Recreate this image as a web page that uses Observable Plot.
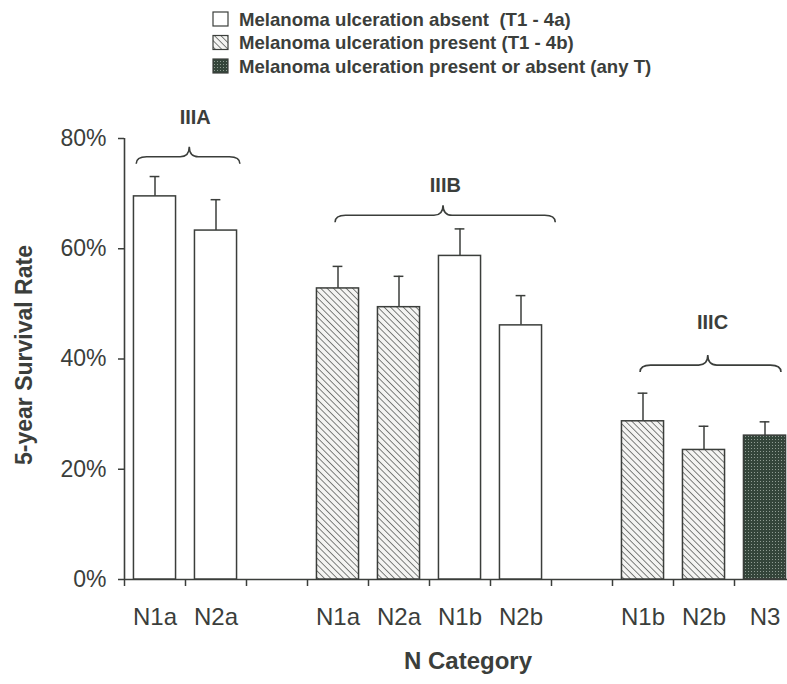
<!DOCTYPE html>
<html><head><meta charset="utf-8">
<script src="https://cdn.jsdelivr.net/npm/d3@7"></script>
<script src="https://cdn.jsdelivr.net/npm/@observablehq/plot@0.6"></script>
<style>body{margin:0;background:#fff;}</style>
</head><body><div id="chart"></div>
<script>
// ---- data ----
const groupNames = ["IIIA", "IIIB", "IIIC"];
const groups = ["IIIA", "IIIA", "IIIB", "IIIB", "IIIB", "IIIB", "IIIC", "IIIC", "IIIC"];
const categories = ["N1a", "N2a", "N1a", "N2a", "N1b", "N2b", "N1b", "N2b", "N3"];
const ulceration = ["absent", "absent", "present", "present", "absent", "absent", "present", "present", "any"];
const survival = [69.5, 63.3, 52.8, 49.4, 58.7, 46.1, 28.7, 23.5, 26.1];
const errorTop = [73.1, 68.9, 56.8, 55.0, 63.6, 51.5, 33.8, 27.8, 28.6];
const yTicks = [0, 20, 40, 60, 80];
const legendLabels = [
  "Melanoma ulceration absent  (T1 - 4a)",
  "Melanoma ulceration present (T1 - 4b)",
  "Melanoma ulceration present or absent (any T)"
];
// bracket annotations (in slot units / percent)
const bracketFrom = [0.2, 3.46, 8.46];
const bracketTo = [1.9, 7.07, 10.77];
const bracketMid = [1.07, 5.23, 9.57];
const bracketLevel = [76.6, 66.0, 38.8];
const labelAt = [1.16, 5.26, 9.64];
const labelLevel = [83.8, 71.5, 46.6];

const ink = "#3b3e3b";
const fills = {absent: "#ffffff", present: "url(#hatch)", any: "url(#dark)"};

const bars = categories.map((c, i) => ({
  category: c, group: groups[i], ulceration: ulceration[i],
  value: survival[i], upper: errorTop[i],
  slot: i + groupNames.indexOf(groups[i])
}));
const inset = 0.155;

function defsMark() {
  const svg = d3.create("svg:g");
  const defs = svg.append("defs");
  const h = defs.append("pattern").attr("id", "hatch").attr("patternUnits", "userSpaceOnUse")
    .attr("width", 4.5).attr("height", 4.5).attr("patternTransform", "rotate(-45)");
  h.append("rect").attr("width", 4.5).attr("height", 4.5).attr("fill", "#f4f4f2");
  h.append("line").attr("x1", 0).attr("y1", 0).attr("x2", 0).attr("y2", 4.5)
    .attr("stroke", "#4a4d4a").attr("stroke-width", 1.4);
  const d = defs.append("pattern").attr("id", "dark").attr("patternUnits", "userSpaceOnUse")
    .attr("width", 3).attr("height", 3);
  d.append("rect").attr("width", 3).attr("height", 3).attr("fill", "#34453a");
  d.append("rect").attr("x", 1).attr("y", 1).attr("width", 1).attr("height", 1).attr("fill", "#8f9c93");
  return svg.node();
}

function bracketMark(index, scales) {
  const g = d3.create("svg:g").attr("fill", "none").attr("stroke", ink).attr("stroke-width", 1.6);
  groupNames.forEach((name, i) => {
    const x1 = scales.x(bracketFrom[i]), x2 = scales.x(bracketTo[i]), xm = scales.x(bracketMid[i]);
    const y = scales.y(bracketLevel[i]);
    const yEnd = y + 7, yTop = y - 10, r = 7;
    const p = `M${x1},${yEnd} Q${x1},${y} ${x1 + r * 1.5},${y} L${xm - r * 1.3},${y} Q${xm},${y} ${xm},${yTop}` +
      ` Q${xm},${y} ${xm + r * 1.3},${y} L${x2 - r * 1.5},${y} Q${x2},${y} ${x2},${yEnd}`;
    g.append("path").attr("d", p);
  });
  return g.node();
}

function legendMark() {
  const g = d3.create("svg:g").attr("text-anchor", "start");
  const sw = [fills.absent, fills.present, fills.any];
  legendLabels.forEach((label, i) => {
    const cy = 19 + i * 23.5;
    g.append("rect").attr("x", 213).attr("y", cy - 7).attr("width", 15).attr("height", 14)
      .attr("fill", sw[i]).attr("stroke", ink).attr("stroke-width", 1.2);
    g.append("text").attr("x", 239).attr("y", cy).attr("dy", "0.36em")
      .attr("text-anchor", "start")
      .attr("fill", ink).attr("font-weight", "bold").style("font-size", "18.6px")
      .attr("font-family", "Liberation Sans, Arial, sans-serif")
      .style("white-space", "pre").text(label);
  });
  return g.node();
}

const barMarks = ["absent", "present", "any"].map(t =>
  Plot.rectY(bars.filter(d => d.ulceration === t), {
    x1: d => d.slot + inset, x2: d => d.slot + 1 - inset, y: "value",
    fill: fills[t], stroke: ink, strokeWidth: 1.5
  })
);

const chart = Plot.plot({
  width: 787, height: 684,
  marginLeft: 124, marginRight: 0, marginTop: 138, marginBottom: 105,
  style: {fontFamily: "Liberation Sans, Arial, sans-serif", color: ink, background: "#fff"},
  x: {type: "linear", domain: [0, 11], range: [124, 795]},
  y: {domain: [0, 80], range: [579, 138]},
  marks: [
    defsMark,
    legendMark,
    Plot.axisY({ticks: yTicks, tickFormat: d => d + "%", tickSize: 6, tickPadding: 12, fontSize: 23, label: null, strokeWidth: 1.5}),
    Plot.axisX({ticks: d3.range(0, 12), tickFormat: () => "", tickSize: 7, label: null, strokeWidth: 1.5}),
    Plot.ruleX([0], {y1: 0, y2: 80, stroke: ink, strokeWidth: 1.6}),
    Plot.ruleY([0], {x1: 0, x2: 11, stroke: ink, strokeWidth: 1.6}),
    Plot.ruleX(bars, {x: d => d.slot + 0.5, y1: "value", y2: "upper", stroke: ink, strokeWidth: 1.5}),
    Plot.ruleY(bars, {x1: d => d.slot + 0.42, x2: d => d.slot + 0.58, y: "upper", stroke: ink, strokeWidth: 1.5}),
    ...barMarks,
    Plot.text(bars, {x: d => d.slot + 0.5, y: 0, text: "category", dy: 38, fontSize: 24, fill: ink}),
    bracketMark,
    Plot.text(groupNames, {x: (d, i) => labelAt[i], y: (d, i) => labelLevel[i], text: d => d, fontSize: 20, fontWeight: "bold", fill: ink}),
    Plot.text(["5-year Survival Rate"], {frameAnchor: "left", rotate: -90, textAnchor: "middle", dx: -100, dy: -4, fontSize: 23, fontWeight: "bold", fill: ink}),
    Plot.text(["N Category"], {frameAnchor: "bottom", textAnchor: "middle", dx: 12, dy: 89, fontSize: 24, fontWeight: "bold", fill: ink})
  ]
});
document.getElementById("chart").append(chart);
</script>
</body></html>
